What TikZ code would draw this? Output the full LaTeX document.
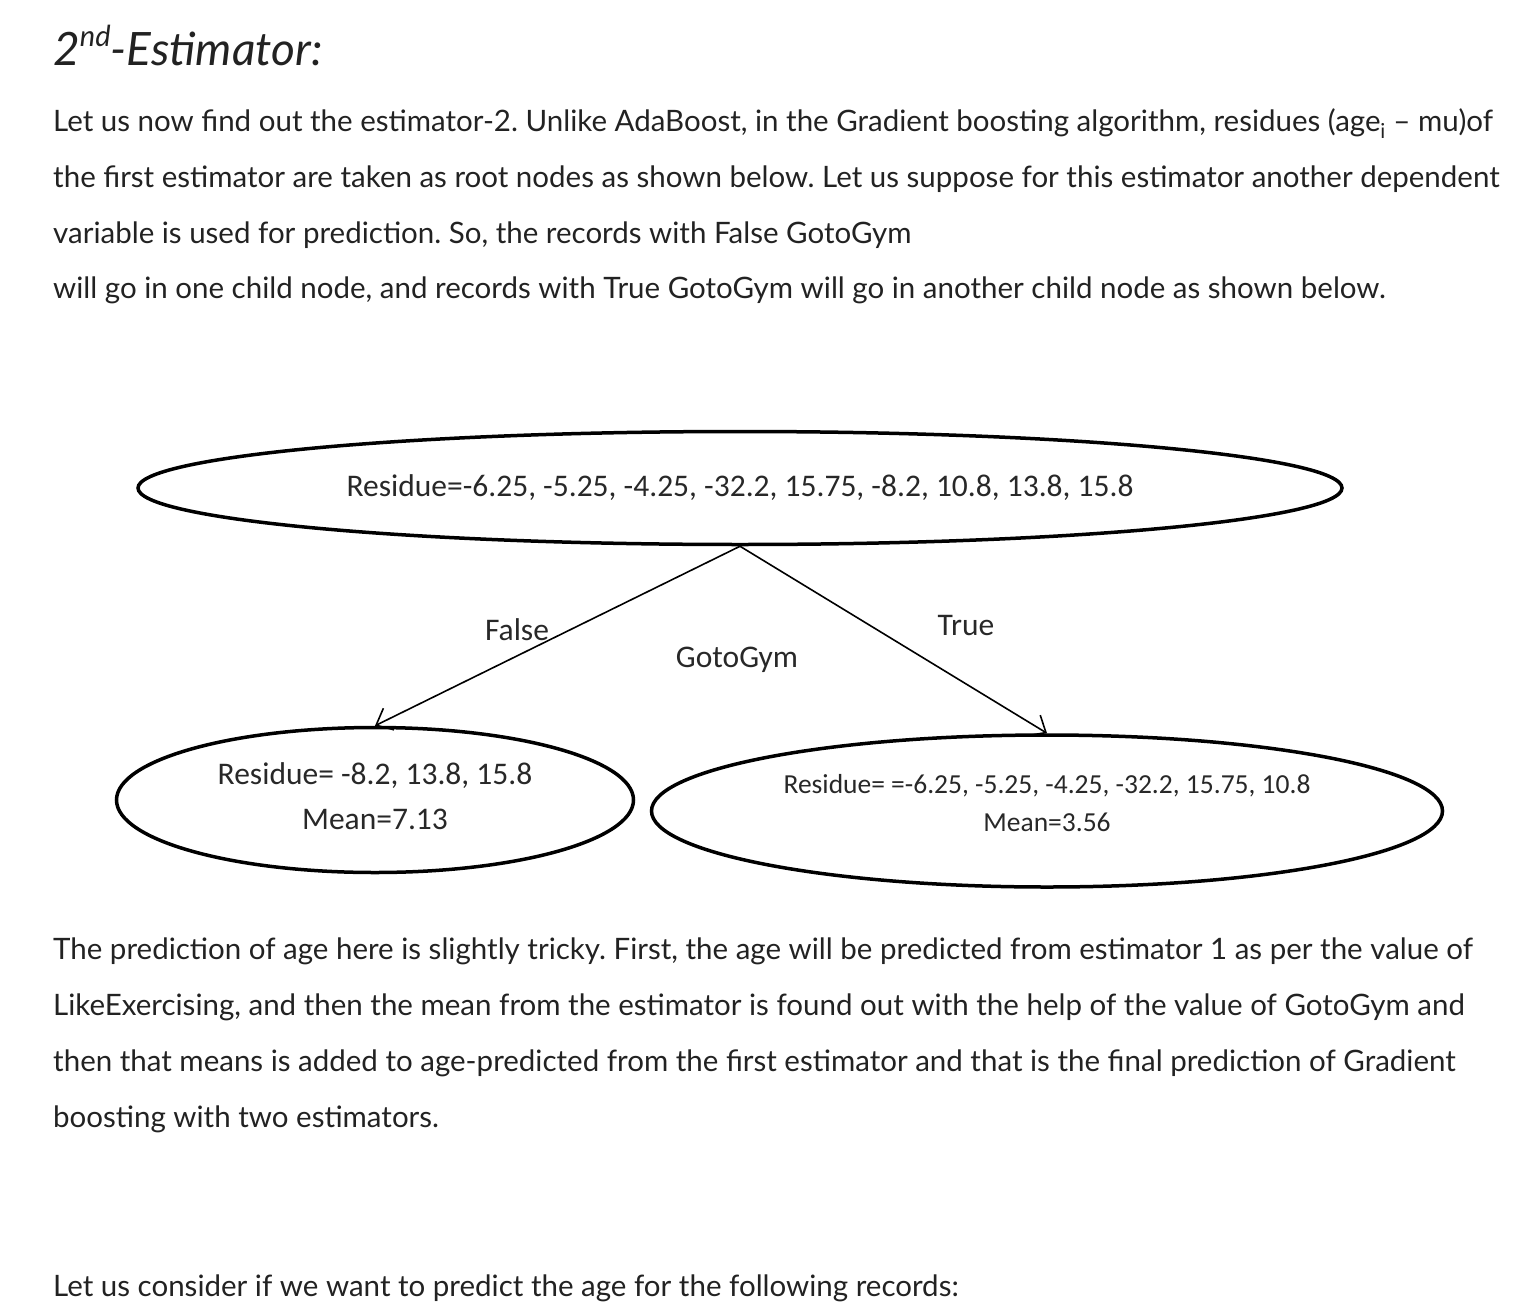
\documentclass[tikz,border=0pt]{standalone}
\usepackage{fontspec}
\setmainfont{Lato}
\newfontfamily\diagfont{Carlito}
\usetikzlibrary{shapes.geometric,arrows.meta}
\definecolor{bodytxt}{RGB}{34,34,34}
\definecolor{diagtxt}{RGB}{40,40,40}
\frenchspacing

\begin{document}
\begin{tikzpicture}[x=1pt,y=-1pt,
  para/.style = {anchor=base west,inner sep=0pt,text=bodytxt,font=\fontsize{29.5}{35}\selectfont},
  leaf/.style = {ellipse,draw,line width=3.5pt,inner sep=0pt},
  lbl/.style = {inner sep=0pt,font=\diagfont\fontsize{31.5}{38}\selectfont,text=diagtxt,align=center},
  branch/.style = {line width=1.6pt,-{Straight Barb[length=14pt,width=24pt,line width=1.6pt]}}]
\useasboundingbox (0,0) rectangle (1514,1308);

\node[para,font=\itshape\fontsize{46}{52}\selectfont] (title) at (53,66) {2\raisebox{0.42em}{\fontsize{29}{32}\selectfont nd}-Estimator:};

\node[para] (p1) at (53,132) {Let us now find out the estimator-2. Unlike AdaBoost, in the Gradient boosting algorithm, residues (age\textsubscript{i} – mu)of};
\node[para] (p2) at (53,187.5) {the first estimator are taken as root nodes as shown below. Let us suppose for this estimator another dependent};
\node[para] (p3) at (53,243) {variable is used for prediction. So, the records with False GotoGym};
\node[para] (p4) at (53,298.5) {will go in one child node, and records with True GotoGym will go in another child node as shown below.};

% tree
\node[leaf,minimum width=1204,minimum height=113] (root) at (740,488) {};
\node[leaf,minimum width=517,minimum height=145] (left) at (375,800) {};
\node[leaf,minimum width=791,minimum height=152] (right) at (1047,811) {};

\node[lbl] (roottxt) at (root.center) {Residue=-6.25, -5.25, -4.25, -32.2, 15.75, -8.2, 10.8, 13.8, 15.8};
\node[lbl] (lefttxt) at ([yshift=3.5pt]left.center) {Residue= -8.2, 13.8, 15.8\\[7pt] Mean=7.13};
\node[lbl,font=\diagfont\fontsize{27.5}{32}\selectfont] (righttxt) at ([yshift=8pt]right.center) {Residue= =-6.25, -5.25, -4.25, -32.2, 15.75, 10.8\\[6pt] Mean=3.56};

\draw[branch] (root.south) -- (left.north);
\draw[branch] (root.south) -- (right.north);

\node[lbl] (f) at (517,630) {False};
\node[lbl] (t) at (966,626) {True};
\node[lbl] (g) at (737,660) {GotoGym};

\node[para] (q1) at (53,959) {The prediction of age here is slightly tricky. First, the age will be predicted from estimator 1 as per the value of};
\node[para] (q2) at (53,1015) {LikeExercising, and then the mean from the estimator is found out with the help of the value of GotoGym and};
\node[para] (q3) at (53,1071) {then that means is added to age-predicted from the first estimator and that is the final prediction of Gradient};
\node[para] (q4) at (53,1127) {boosting with two estimators.};

\node[para] (q5) at (53,1296) {Let us consider if we want to predict the age for the following records:};
\end{tikzpicture}
\end{document}
